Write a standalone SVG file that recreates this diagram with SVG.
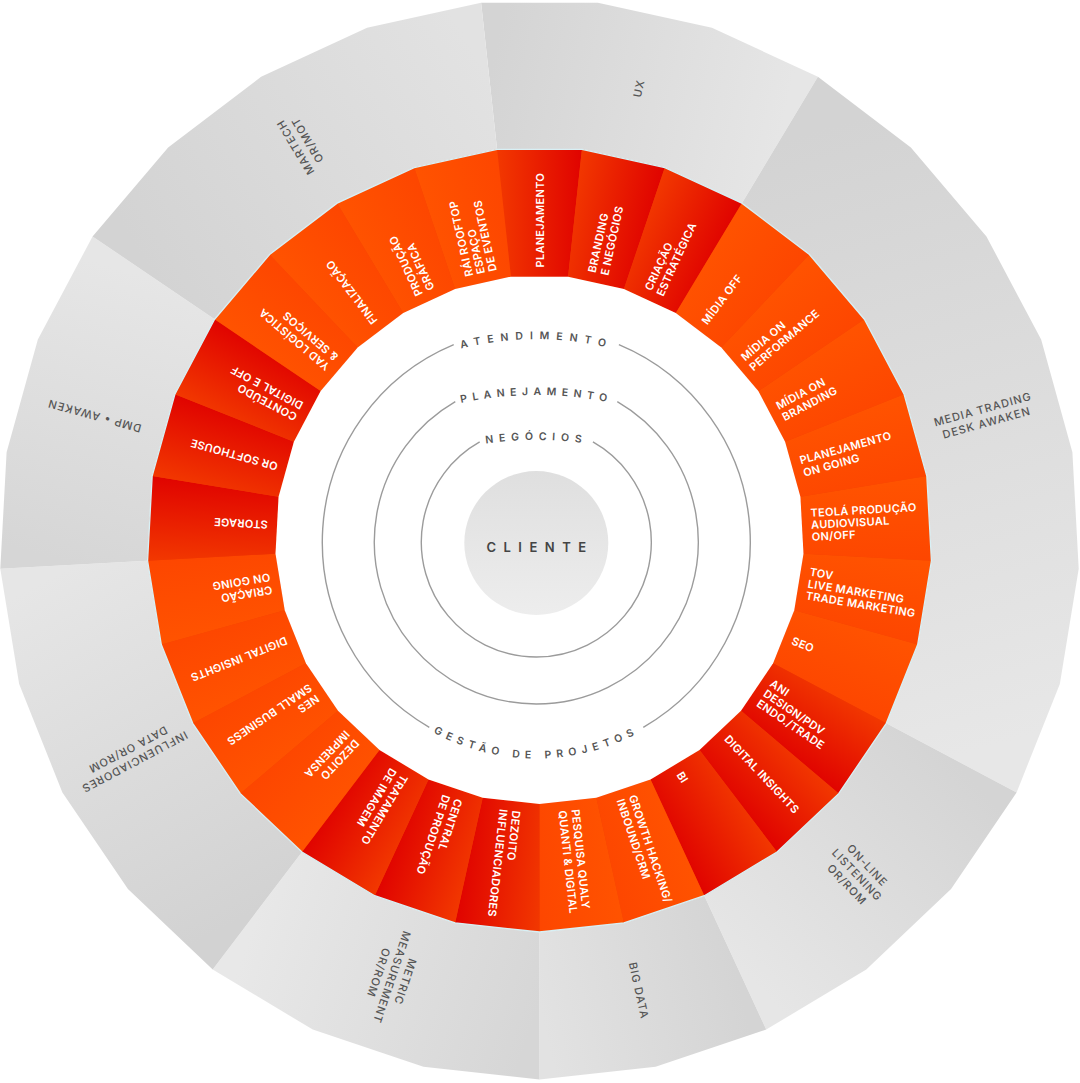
<svg xmlns="http://www.w3.org/2000/svg" xmlns:xlink="http://www.w3.org/1999/xlink" width="1080" height="1083" viewBox="0 0 1080 1083">
<style>
.rl{font-family:Inter,Lato,"DejaVu Sans",sans-serif;font-size:11px;font-weight:600;fill:#fff;letter-spacing:0.3px}
.gl{font-family:Inter,Lato,"DejaVu Sans",sans-serif;font-size:11px;font-weight:500;fill:#555;letter-spacing:1px;text-anchor:middle}
.il{font-family:Inter,Lato,"DejaVu Sans",sans-serif;font-size:10.5px;font-weight:600;fill:#555}
.arc{fill:none;stroke:#9b9b9b;stroke-width:1.4}
.red{fill:url(#gRed)}
.org{fill:url(#gOrg)}
</style>
<defs>
<linearGradient id="gRed" x1="0" y1="0" x2="1" y2="0"><stop offset="0" stop-color="#f23800"/><stop offset="1" stop-color="#e00300"/></linearGradient>
<linearGradient id="gOrg" x1="0" y1="0" x2="1" y2="0"><stop offset="0" stop-color="#ff5300"/><stop offset="1" stop-color="#fd4600"/></linearGradient>
<linearGradient id="gUx" gradientUnits="userSpaceOnUse" x1="489.12" y1="76.23" x2="779.75" y2="140.2"><stop offset="0" stop-color="#d4d4d4"/><stop offset="1" stop-color="#e6e6e6"/></linearGradient>
<linearGradient id="gMedia" gradientUnits="userSpaceOnUse" x1="779.75" y1="140.2" x2="951.22" y2="757.78"><stop offset="0" stop-color="#d3d3d3"/><stop offset="1" stop-color="#e7e7e7"/></linearGradient>
<linearGradient id="gOnline" gradientUnits="userSpaceOnUse" x1="951.22" y1="757.78" x2="735.17" y2="962.43"><stop offset="0" stop-color="#d4d4d4"/><stop offset="1" stop-color="#e6e6e6"/></linearGradient>
<linearGradient id="gBig" gradientUnits="userSpaceOnUse" x1="735.17" y1="962.43" x2="539.5" y2="1005.5"><stop offset="0" stop-color="#d4d4d4"/><stop offset="1" stop-color="#e2e2e2"/></linearGradient>
<linearGradient id="gMetric" gradientUnits="userSpaceOnUse" x1="539.5" y1="1005.5" x2="257.49" y2="910.48"><stop offset="0" stop-color="#d6d6d6"/><stop offset="1" stop-color="#e8e8e8"/></linearGradient>
<linearGradient id="gInfl" gradientUnits="userSpaceOnUse" x1="257.49" y1="910.48" x2="74.19" y2="564.73"><stop offset="0" stop-color="#d2d2d2"/><stop offset="1" stop-color="#e6e6e6"/></linearGradient>
<linearGradient id="gDmp" gradientUnits="userSpaceOnUse" x1="74.19" y1="564.73" x2="153.8" y2="277.99"><stop offset="0" stop-color="#d6d6d6"/><stop offset="1" stop-color="#e6e6e6"/></linearGradient>
<linearGradient id="gMartech" gradientUnits="userSpaceOnUse" x1="153.8" y1="277.99" x2="489.12" y2="76.23"><stop offset="0" stop-color="#d3d3d3"/><stop offset="1" stop-color="#e2e2e2"/></linearGradient>
<linearGradient id="gCli" x1="0" y1="0" x2="0" y2="1"><stop offset="0" stop-color="#dfdfdf"/><stop offset="1" stop-color="#ededed"/></linearGradient>
<polygon id="seg" points="-42.44,-390.2 42.44,-390.2 28.59,-262.85 -28.59,-262.85"/>
<path id="pAt" d="M 337.04 411.73 A 310 310 0 0 1 735.56 411.73"/>
<path id="pPl" d="M 329.81 460.11 A 360 360 0 0 1 742.79 460.11"/>
<path id="pNe" d="M 351.3 489.57 A 370 370 0 0 1 721.3 489.57"/>
<path id="pGe" d="M 348.81 650.25 A 216.5 216.5 0 0 0 723.79 650.25"/>
</defs>

<rect width="1080" height="1083" fill="#fff"/>

<g id="outer-ring">
<g id="ux"><polygon fill="url(#gUx)" points="481.12,2.66 597.88,2.66 711.92,27.77 817.9,76.8 741.86,203.18 664.83,167.55 581.94,149.3 497.06,149.3"/>
<text class="gl" transform="translate(539.5 539.5) rotate(-77.586)" x="462" y="4">UX</text></g>
<g id="media-trading"><polygon fill="url(#gMedia)" points="817.9,76.8 910.86,147.46 986.45,236.46 1041.15,339.62 1072.39,452.14 1078.71,568.74 1059.84,683.97 1016.6,792.44 886.28,723.35 917.71,644.51 931.42,560.75 926.83,476 904.12,394.22 864.37,319.23 809.42,254.54 741.86,203.18"/>
<text class="gl" transform="translate(539.5 539.5) rotate(-15.517)"><tspan x="462" y="-3">MEDIA TRADING</tspan><tspan x="462" y="11">DESK AWAKEN</tspan></text></g>
<g id="online-listening"><polygon fill="url(#gOnline)" points="1016.6,792.44 951.07,889.1 866.3,969.39 766.24,1029.59 704.31,895.73 777.03,851.97 838.65,793.6 886.28,723.35"/>
<text class="gl" transform="translate(539.5 539.5) rotate(46.552)"><tspan x="462" y="-10">ON-LINE</tspan><tspan x="462" y="4">LISTENING</tspan><tspan x="462" y="18">OR/ROM</tspan></text></g>
<g id="big-data"><polygon fill="url(#gBig)" points="766.24,1029.59 655.58,1066.87 539.5,1079.5 539.5,932 623.88,922.82 704.31,895.73"/>
<text class="gl" transform="translate(539.5 539.5) rotate(77.586)" x="462" y="4">BIG DATA</text></g>
<g id="metric"><polygon fill="url(#gMetric)" points="539.5,1079.5 423.42,1066.87 312.76,1029.59 212.7,969.39 301.97,851.97 374.69,895.73 455.12,922.82 539.5,932"/>
<text class="gl" transform="translate(539.5 539.5) rotate(108.621)"><tspan x="462" y="-10">METRIC</tspan><tspan x="462" y="4">MEASUREMENT</tspan><tspan x="462" y="18">OR/ROM</tspan></text></g>
<g id="influenciadores"><polygon fill="url(#gInfl)" points="212.7,969.39 127.93,889.1 62.4,792.44 19.16,683.97 0.29,568.74 147.58,560.75 161.29,644.51 192.72,723.35 240.35,793.6 301.97,851.97"/>
<text class="gl" transform="translate(539.5 539.5) rotate(152.069)"><tspan x="462" y="-3">INFLUENCIADORES</tspan><tspan x="462" y="11">DATA OR/ROM</tspan></text></g>
<g id="dmp"><polygon fill="url(#gDmp)" points="0.29,568.74 6.61,452.14 37.85,339.62 92.55,236.46 214.63,319.23 174.88,394.22 152.17,476 147.58,560.75"/>
<text class="gl" transform="translate(539.5 539.5) rotate(195.517)" x="462" y="4">DMP • AWAKEN</text></g>
<g id="martech"><polygon fill="url(#gMartech)" points="92.55,236.46 168.14,147.46 261.1,76.8 367.08,27.77 481.12,2.66 497.06,149.3 414.17,167.55 337.14,203.18 269.58,254.54 214.63,319.23"/>
<text class="gl" transform="translate(539.5 539.5) rotate(238.966)"><tspan x="462" y="-3">MARTECH</tspan><tspan x="462" y="11">OR/MOT</tspan></text></g>
</g>

<polygon id="red-base" fill="#f03a00" points="581.94,149.3 664.83,167.55 741.86,203.18 809.42,254.54 864.37,319.23 904.12,394.22 926.83,476 931.42,560.75 917.71,644.51 886.28,723.35 838.65,793.6 777.03,851.97 704.31,895.73 623.88,922.82 539.5,932 455.12,922.82 374.69,895.73 301.97,851.97 240.35,793.6 192.72,723.35 161.29,644.51 147.58,560.75 152.17,476 174.88,394.22 214.63,319.23 269.58,254.54 337.14,203.18 414.17,167.55 497.06,149.3"/>

<g id="red-ring">
<g id="s00" transform="translate(539.5 539.5) rotate(0)"><use href="#seg" class="red"/><text class="rl" transform="rotate(-90)" x="272" y="4">PLANEJAMENTO</text></g>
<g id="s01" transform="translate(539.5 539.5) rotate(12.4138)"><use href="#seg" class="red"/><text class="rl" transform="rotate(-90)"><tspan x="272" y="-2.5">BRANDING</tspan><tspan x="272" y="10.5">E NEGÓCIOS</tspan></text></g>
<g id="s02" transform="translate(539.5 539.5) rotate(24.8276)"><use href="#seg" class="red"/><text class="rl" transform="rotate(-90)"><tspan x="272" y="-2.5">CRIAÇÃO</tspan><tspan x="272" y="10.5">ESTRATÉGICA</tspan></text></g>
<g id="s03" transform="translate(539.5 539.5) rotate(37.2414)"><use href="#seg" class="org"/><text class="rl" transform="rotate(-90)" x="272" y="4">MÍDIA OFF</text></g>
<g id="s04" transform="translate(539.5 539.5) rotate(49.6552)"><use href="#seg" class="org"/><text class="rl" transform="rotate(-90)"><tspan x="272" y="-2.5">MÍDIA ON</tspan><tspan x="272" y="10.5">PERFORMANCE</tspan></text></g>
<g id="s05" transform="translate(539.5 539.5) rotate(62.069)"><use href="#seg" class="org"/><text class="rl" transform="rotate(-90)"><tspan x="272" y="-2.5">MÍDIA ON</tspan><tspan x="272" y="10.5">BRANDING</tspan></text></g>
<g id="s06" transform="translate(539.5 539.5) rotate(74.4828)"><use href="#seg" class="org"/><text class="rl" transform="rotate(-90)"><tspan x="272" y="-2.5">PLANEJAMENTO</tspan><tspan x="272" y="10.5">ON GOING</tspan></text></g>
<g id="s07" transform="translate(539.5 539.5) rotate(86.8966)"><use href="#seg" class="org"/><text class="rl" transform="rotate(-90)"><tspan x="272" y="-8">TEOLÁ PRODUÇÃO</tspan><tspan x="272" y="4">AUDIOVISUAL</tspan><tspan x="272" y="16">ON/OFF</tspan></text></g>
<g id="s08" transform="translate(539.5 539.5) rotate(99.3103)"><use href="#seg" class="org"/><text class="rl" transform="rotate(-90)"><tspan x="272" y="-8">TOV</tspan><tspan x="272" y="4">LIVE MARKETING</tspan><tspan x="272" y="16">TRADE MARKETING</tspan></text></g>
<g id="s09" transform="translate(539.5 539.5) rotate(111.7241)"><use href="#seg" class="org"/><text class="rl" transform="rotate(-90)" x="272" y="4">SEO</text></g>
<g id="s10" transform="translate(539.5 539.5) rotate(124.1379)"><use href="#seg" class="red"/><text class="rl" transform="rotate(-90)"><tspan x="272" y="-8">ANI</tspan><tspan x="272" y="4">DESIGN/PDV</tspan><tspan x="272" y="16">ENDO./TRADE</tspan></text></g>
<g id="s11" transform="translate(539.5 539.5) rotate(136.5517)"><use href="#seg" class="red"/><text class="rl" transform="rotate(-90)" x="272" y="4">DIGITAL INSIGHTS</text></g>
<g id="s12" transform="translate(539.5 539.5) rotate(148.9655)"><use href="#seg" class="red"/><text class="rl" transform="rotate(-90)" x="272" y="4">BI</text></g>
<g id="s13" transform="translate(539.5 539.5) rotate(161.3793)"><use href="#seg" class="org"/><text class="rl" transform="rotate(-90)"><tspan x="272" y="-2.5">GROWTH HACKING/</tspan><tspan x="272" y="10.5">INBOUND/CRM</tspan></text></g>
<g id="s14" transform="translate(539.5 539.5) rotate(173.7931)"><use href="#seg" class="org"/><text class="rl" transform="rotate(-90)"><tspan x="272" y="-2.5">PESQUISA QUALY</tspan><tspan x="272" y="10.5">QUANTI &amp; DIGITAL</tspan></text></g>
<g id="s15" transform="translate(539.5 539.5) rotate(186.2069)"><use href="#seg" class="red"/><text class="rl" transform="rotate(-90)"><tspan x="272" y="-2.5">DEZOITO</tspan><tspan x="272" y="10.5">INFLUENCIADORES</tspan></text></g>
<g id="s16" transform="translate(539.5 539.5) rotate(198.6207)"><use href="#seg" class="red"/><text class="rl" transform="rotate(-90)"><tspan x="272" y="-2.5">CENTRAL</tspan><tspan x="272" y="10.5">DE PRODUÇÃO</tspan></text></g>
<g id="s17" transform="translate(539.5 539.5) rotate(211.0345)"><use href="#seg" class="red"/><text class="rl" transform="rotate(-90)"><tspan x="272" y="-2.5">TRATAMENTO</tspan><tspan x="272" y="10.5">DE IMAGEM</tspan></text></g>
<g id="s18" transform="translate(539.5 539.5) rotate(223.4483)"><use href="#seg" class="org"/><text class="rl" transform="rotate(-90)"><tspan x="272" y="-2.5">DEZOITO</tspan><tspan x="272" y="10.5">IMPRENSA</tspan></text></g>
<g id="s19" transform="translate(539.5 539.5) rotate(235.8621)"><use href="#seg" class="org"/><text class="rl" transform="rotate(-90)"><tspan x="272" y="-2.5">NES</tspan><tspan x="272" y="10.5">SMALL BUSINESS</tspan></text></g>
<g id="s20" transform="translate(539.5 539.5) rotate(248.2759)"><use href="#seg" class="org"/><text class="rl" transform="rotate(-90)" x="272" y="4">DIGITAL INSIGHTS</text></g>
<g id="s21" transform="translate(539.5 539.5) rotate(260.6897)"><use href="#seg" class="org"/><text class="rl" transform="rotate(-90)"><tspan x="272" y="-2.5">CRIAÇÃO</tspan><tspan x="272" y="10.5">ON GOING</tspan></text></g>
<g id="s22" transform="translate(539.5 539.5) rotate(273.1034)"><use href="#seg" class="red"/><text class="rl" transform="rotate(-90)" x="272" y="4">STORAGE</text></g>
<g id="s23" transform="translate(539.5 539.5) rotate(285.5172)"><use href="#seg" class="red"/><text class="rl" transform="rotate(-90)" x="272" y="4">OR SOFTHOUSE</text></g>
<g id="s24" transform="translate(539.5 539.5) rotate(297.931)"><use href="#seg" class="red"/><text class="rl" transform="rotate(-90)"><tspan x="272" y="-2.5">CONTEÚDO</tspan><tspan x="272" y="10.5">DIGITAL E OFF</tspan></text></g>
<g id="s25" transform="translate(539.5 539.5) rotate(310.3448)"><use href="#seg" class="org"/><text class="rl" transform="rotate(-90)"><tspan x="272" y="-2.5">YAD LOGÍSTICA</tspan><tspan x="272" y="10.5">&amp; SERVIÇOS</tspan></text></g>
<g id="s26" transform="translate(539.5 539.5) rotate(322.7586)"><use href="#seg" class="org"/><text class="rl" transform="rotate(-90)" x="272" y="4">FINALIZAÇÃO</text></g>
<g id="s27" transform="translate(539.5 539.5) rotate(335.1724)"><use href="#seg" class="org"/><text class="rl" transform="rotate(-90)"><tspan x="272" y="-2.5">PRODUÇÃO</tspan><tspan x="272" y="10.5">GRÁFICA</tspan></text></g>
<g id="s28" transform="translate(539.5 539.5) rotate(347.5862)"><use href="#seg" class="org"/><text class="rl" transform="rotate(-90)"><tspan x="272" y="-8">RÁI ROOFTOP</tspan><tspan x="272" y="4">ESPAÇO</tspan><tspan x="272" y="16">DE EVENTOS</tspan></text></g>
</g>

<polygon id="red-edge" fill="none" stroke="#d8f0f5" stroke-width="1.3" points="581.94,149.3 664.83,167.55 741.86,203.18 809.42,254.54 864.37,319.23 904.12,394.22 926.83,476 931.42,560.75 917.71,644.51 886.28,723.35 838.65,793.6 777.03,851.97 704.31,895.73 623.88,922.82 539.5,932 455.12,922.82 374.69,895.73 301.97,851.97 240.35,793.6 192.72,723.35 161.29,644.51 147.58,560.75 152.17,476 174.88,394.22 214.63,319.23 269.58,254.54 337.14,203.18 414.17,167.55 497.06,149.3"/>

<polygon id="inner-white" fill="#fff" points="568.09,276.65 623.92,288.94 675.81,312.95 721.33,347.55 758.34,391.12 785.12,441.63 800.42,496.72 803.51,553.81 794.27,610.24 773.1,663.35 741.02,710.67 699.51,749.99 650.52,779.46 596.34,797.72 539.5,803.9 482.66,797.72 428.48,779.46 379.49,749.99 337.98,710.67 305.9,663.35 284.73,610.24 275.49,553.81 278.58,496.72 293.88,441.63 320.66,391.12 357.67,347.55 403.19,312.95 455.08,288.94 510.91,276.65"/>

<g id="rings">
<path class="arc" d="M 618.88 344.58 A 214 214 0 0 1 643.3 727.33"/>
<path class="arc" d="M 429.3 727.33 A 214 214 0 0 1 453.72 344.58"/>
<path class="arc" d="M 617.3 401.7 A 162 162 0 1 1 455.3 401.7"/>
<path class="arc" d="M 592.93 441.91 A 115 115 0 1 1 479.67 441.91"/>
</g>

<g id="ring-labels">
<text class="il" letter-spacing="6.8"><textPath href="#pAt" startOffset="50%" text-anchor="middle">ATENDIMENTO</textPath></text>
<text class="il" letter-spacing="5.4"><textPath href="#pPl" startOffset="50%" text-anchor="middle">PLANEJAMENTO</textPath></text>
<text class="il" letter-spacing="5.7"><textPath href="#pNe" startOffset="50%" text-anchor="middle">NEGÓCIOS</textPath></text>
<text class="il" letter-spacing="5.4"><textPath href="#pGe" startOffset="50%" text-anchor="middle">GESTÃO DE PROJETOS</textPath></text>
</g>

<g id="cliente">
<circle cx="536.3" cy="543" r="72" fill="url(#gCli)"/>
<text x="540" y="551.5" text-anchor="middle" style="font-family:Inter,Lato,'DejaVu Sans',sans-serif;font-size:13px;font-weight:600;fill:#444;letter-spacing:7.5px">CLIENTE</text>
</g>
</svg>
